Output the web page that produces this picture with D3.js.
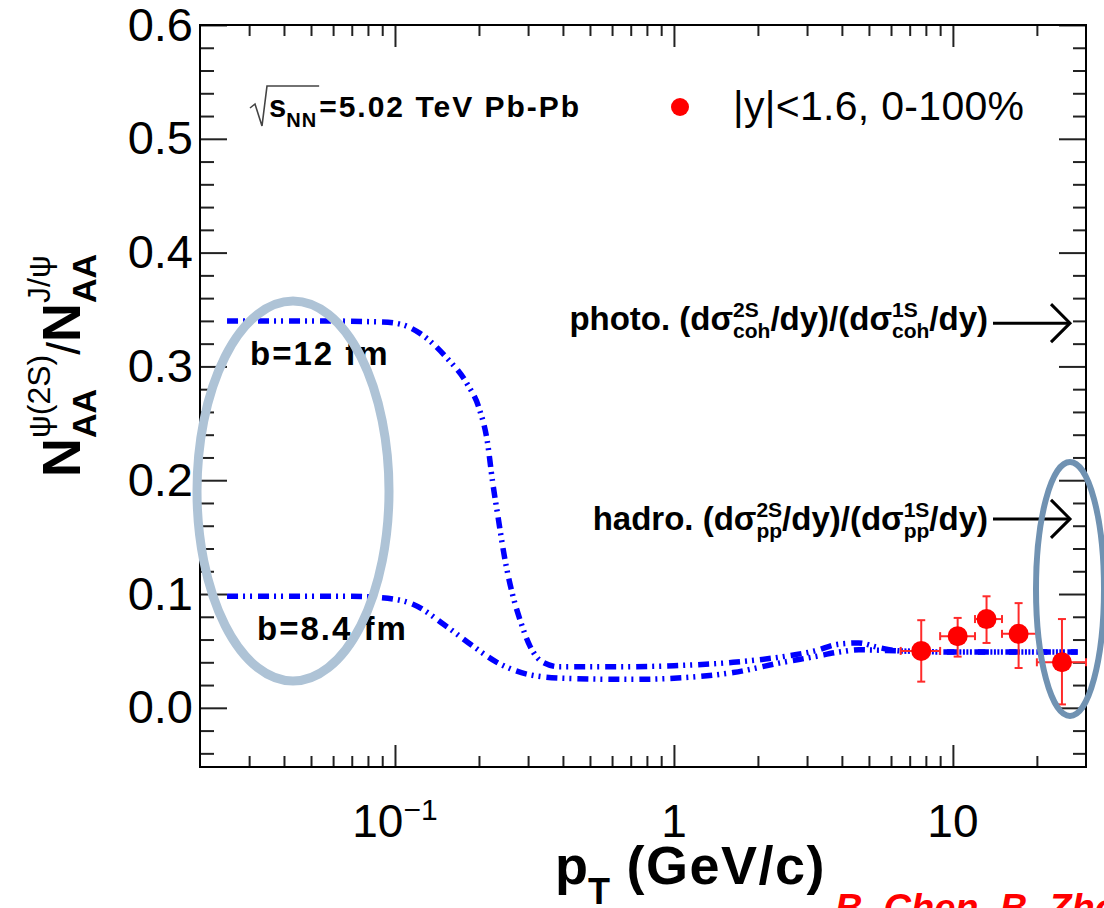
<!DOCTYPE html>
<html>
<head>
<meta charset="utf-8">
<script src="https://cdnjs.cloudflare.com/ajax/libs/d3/7.8.5/d3.min.js"></script>
<style>
  body { margin: 0; background: #fff; }
  svg { display: block; font-family: "Liberation Sans", Arial, Helvetica, sans-serif; }
</style>
</head>
<body>
<svg id="chart" width="1104" height="908"></svg>
<script>
// model curves, b=12 fm and b=8.4 fm (pT in GeV/c)
var b12Pt  = [0.025, 0.05, 0.09, 0.105, 0.123, 0.154, 0.181, 0.201, 0.214, 0.224, 0.234, 0.248, 0.263, 0.281, 0.305, 0.339, 0.39, 0.6, 1.0, 1.63, 2.46, 3.2, 3.9, 4.6, 5.4, 6.5, 10, 28];
var b12Val = [0.340, 0.340, 0.339, 0.337, 0.329, 0.307, 0.285, 0.262, 0.235, 0.198, 0.168, 0.130, 0.101, 0.077, 0.054, 0.040, 0.036, 0.036, 0.037, 0.040, 0.045, 0.050, 0.056, 0.057, 0.053, 0.050, 0.049, 0.049];
var b84Pt  = [0.025, 0.07, 0.088, 0.116, 0.154, 0.191, 0.232, 0.305, 0.40, 0.7, 1.0, 1.63, 2.46, 3.2, 3.9, 4.6, 6.5, 10, 28];
var b84Val = [0.098, 0.098, 0.097, 0.091, 0.071, 0.054, 0.040, 0.029, 0.026, 0.025, 0.026, 0.031, 0.040, 0.045, 0.049, 0.051, 0.050, 0.049, 0.049];

// measured points |y|<1.6, 0-100%
var ptCenter = [7.7, 10.4, 13.2, 17.2, 24.6];
var ptLow    = [6.5, 9, 12, 15, 20];
var ptHigh   = [9, 12, 15, 20, 30];
var ratio    = [0.050, 0.063, 0.078, 0.065, 0.040];
var errLow   = [0.027, 0.018, 0.021, 0.030, 0.037];
var errHigh  = [0.027, 0.016, 0.020, 0.027, 0.038];

// reference ratios (arrows)
var photoRatio = 0.338;
var hadroRatio = 0.166;

// ticks
var xMajor = [0.1, 1, 10];
var xMinor = [0.03, 0.04, 0.05, 0.06, 0.07, 0.08, 0.09, 0.2, 0.3, 0.4, 0.5, 0.6, 0.7, 0.8, 0.9, 2, 3, 4, 5, 6, 7, 8, 9, 20];
var xTickBase = ["10", "1", "10"];
var xTickExp  = ["\u22121", "", ""];
var yMajor = [0, 0.1, 0.2, 0.3, 0.4, 0.5, 0.6];
var yMinor = [-0.04, -0.02, 0.02, 0.04, 0.06, 0.08, 0.12, 0.14, 0.16, 0.18, 0.22, 0.24, 0.26, 0.28, 0.32, 0.34, 0.36, 0.38, 0.42, 0.44, 0.46, 0.48, 0.52, 0.54, 0.56, 0.58];

var svg = d3.select("#chart"),
    margin = {top: 25, right: 18, bottom: 141, left: 200},
    width = +svg.attr("width") - margin.left - margin.right,
    height = +svg.attr("height") - margin.top - margin.bottom,
    g = svg.append("g").attr("transform", "translate(" + margin.left + "," + margin.top + ")");

var x = d3.scaleLog().domain([0.02, 30]).range([0, width]),
    y = d3.scaleLinear().domain([-0.052, 0.6]).range([height, 0]);

// text with stacked sub/superscripts, returns total width
function rich(sel, parts) {
  var start = 0, end = 0;
  parts.forEach(function(p) {
    var px = p.stack ? start : end;
    var t = sel.append("text")
        .attr("x", px)
        .attr("y", p.dy || 0)
        .style("font-size", p.fs + "px")
        .style("font-weight", p.fw || "bold")
        .style("letter-spacing", (p.ls || 0) + "px")
        .text(p.t);
    var w = t.node().getComputedTextLength();
    if (!p.stack) start = px;
    end = Math.max(end, px + w);
  });
  return end;
}

function tickAxis(axis, tr) {
  var a = g.append("g").attr("transform", tr).call(axis);
  a.select(".domain").remove();
  a.selectAll(".tick line").attr("stroke", "#222").attr("stroke-width", 2);
  return a;
}

// ticks on all four sides, pointing inward
tickAxis(d3.axisBottom(x).tickValues(xMajor).tickSizeInner(-22).tickSizeOuter(0).tickFormat(""), "translate(0," + height + ")");
tickAxis(d3.axisBottom(x).tickValues(xMinor).tickSizeInner(-11).tickSizeOuter(0).tickFormat(""), "translate(0," + height + ")");
tickAxis(d3.axisTop(x).tickValues(xMajor).tickSizeInner(-22).tickSizeOuter(0).tickFormat(""), "translate(0,0)");
tickAxis(d3.axisTop(x).tickValues(xMinor).tickSizeInner(-11).tickSizeOuter(0).tickFormat(""), "translate(0,0)");
tickAxis(d3.axisRight(y).tickValues(yMajor).tickSizeInner(-27).tickSizeOuter(0).tickFormat(""), "translate(" + width + ",0)");
tickAxis(d3.axisRight(y).tickValues(yMinor).tickSizeInner(-13).tickSizeOuter(0).tickFormat(""), "translate(" + width + ",0)");
tickAxis(d3.axisLeft(y).tickValues(yMinor).tickSizeInner(-14).tickSizeOuter(0).tickFormat(""), "translate(0,0)");
var yAx = tickAxis(d3.axisLeft(y).tickValues(yMajor).tickSizeInner(-27).tickSizeOuter(0).tickPadding(7).tickFormat(d3.format(".1f")), "translate(0,0)");
yAx.attr("font-family", null).attr("font-size", null);
yAx.selectAll(".tick text").style("font-size", "47px").attr("fill", "#000");

// x tick labels (10^-1, 1, 10)
g.append("g").selectAll("text")
  .data(xMajor)
  .enter().append("text")
    .attr("x", function(d) { return x(d); })
    .attr("y", height + 70)
    .attr("text-anchor", "middle")
    .style("font-size", "46px")
    .each(function(d, i) {
      var t = d3.select(this);
      t.append("tspan").text(xTickBase[i]);
      if (xTickExp[i]) t.append("tspan").attr("dy", -17).style("font-size", "30px").text(xTickExp[i]);
    });

// frame
g.append("rect")
    .attr("width", width)
    .attr("height", height)
    .attr("fill", "none")
    .attr("stroke", "#000")
    .attr("stroke-width", 2);

// model curves
var line = d3.line()
    .curve(d3.curveMonotoneX)
    .x(function(d) { return x(d[0]); })
    .y(function(d) { return y(d[1]); });

[d3.zip(b12Pt, b12Val), d3.zip(b84Pt, b84Val)].forEach(function(c) {
  g.append("path")
      .attr("d", line(c))
      .attr("fill", "none")
      .attr("stroke", "#0000ff")
      .attr("stroke-width", 5.5)
      .attr("stroke-dasharray", "11,5,2,5,2,6");
});

// data points with error bars
var pts = g.selectAll(".pt")
  .data(ptCenter.map(function(p, i) {
    return {pt: p, lo: ptLow[i], hi: ptHigh[i], v: ratio[i], el: errLow[i], eh: errHigh[i]};
  }))
  .enter().append("g")
    .attr("class", "pt")
    .attr("stroke", "#ff2a2a")
    .attr("stroke-width", 2);

pts.append("line")
    .attr("x1", function(d) { return x(d.lo); })
    .attr("x2", function(d) { return x(d.hi); })
    .attr("y1", function(d) { return y(d.v); })
    .attr("y2", function(d) { return y(d.v); });
pts.append("line")
    .attr("x1", function(d) { return x(d.pt); })
    .attr("x2", function(d) { return x(d.pt); })
    .attr("y1", function(d) { return y(d.v - d.el); })
    .attr("y2", function(d) { return y(d.v + d.eh); });
pts.each(function(d) {
  var s = d3.select(this), cap = 4;
  [d.v - d.el, d.v + d.eh].forEach(function(v) {
    s.append("line").attr("x1", x(d.pt) - cap).attr("x2", x(d.pt) + cap).attr("y1", y(v)).attr("y2", y(v));
  });
  [d.lo, d.hi].forEach(function(p) {
    s.append("line").attr("x1", x(p)).attr("x2", x(p)).attr("y1", y(d.v) - cap).attr("y2", y(d.v) + cap);
  });
});
pts.append("circle")
    .attr("cx", function(d) { return x(d.pt); })
    .attr("cy", function(d) { return y(d.v); })
    .attr("r", 10)
    .attr("fill", "#ff0000")
    .attr("stroke", "none");

// arrows + labels
[photoRatio, hadroRatio].forEach(function(v) {
  var ay = y(v);
  g.append("line").attr("x1", 793).attr("x2", 869).attr("y1", ay).attr("y2", ay)
      .attr("stroke", "#000").attr("stroke-width", 3);
  g.append("polyline")
      .attr("points", [[851, ay - 19], [870, ay], [851, ay + 19]].join(" "))
      .attr("fill", "none").attr("stroke", "#000").attr("stroke-width", 3);
});

var photo = g.append("g");
var pw = rich(photo, [
  {t: "photo. (d\u03c3", fs: 33},
  {t: "2S", fs: 21, dy: -13},
  {t: "coh", fs: 21, dy: 8, stack: true},
  {t: "/dy)/(d\u03c3", fs: 33},
  {t: "1S", fs: 21, dy: -13},
  {t: "coh", fs: 21, dy: 8, stack: true},
  {t: "/dy)", fs: 33}
]);
photo.attr("transform", "translate(" + (788 - pw) + ",305)");

var hadro = g.append("g");
var hw = rich(hadro, [
  {t: "hadro. (d\u03c3", fs: 33},
  {t: "2S", fs: 21, dy: -13},
  {t: "pp", fs: 21, dy: 8, stack: true},
  {t: "/dy)/(d\u03c3", fs: 33},
  {t: "1S", fs: 21, dy: -13},
  {t: "pp", fs: 21, dy: 8, stack: true},
  {t: "/dy)", fs: 33}
]);
hadro.attr("transform", "translate(" + (788 - hw) + ",505)");

// curve labels
svg.append("text").attr("x", 250).attr("y", 365).style("font-size", "33px").style("font-weight", "bold")
    .style("letter-spacing", "2px").text("b=12 fm");
svg.append("text").attr("x", 257).attr("y", 640).style("font-size", "33px").style("font-weight", "bold")
    .style("letter-spacing", "2px").text("b=8.4 fm");

// sqrt(s_NN) label
var sq = svg.append("g").attr("transform", "translate(269,117)");
var sw = rich(sq, [
  {t: "s", fs: 31},
  {t: "NN", fs: 20, dy: 10, ls: 1}
]);
svg.append("path")
    .attr("d", "M250,108 L255,104 L262,126 L267,86 L" + (271 + sw) + ",86")
    .attr("fill", "none").attr("stroke", "#444").attr("stroke-width", 1.6);
svg.append("text").attr("x", 271 + sw).attr("y", 117)
    .style("font-size", "30px").style("font-weight", "bold").style("letter-spacing", "2px")
    .text("=5.02 TeV Pb-Pb");

// legend
svg.append("circle").attr("cx", 680).attr("cy", 107).attr("r", 9).attr("fill", "#ff0000");
svg.append("text").attr("x", 733).attr("y", 120).style("font-size", "41px").style("letter-spacing", "0.3px")
    .text("|y|<1.6, 0-100%");

// axis titles
var yt = svg.append("g").attr("transform", "translate(80,477) rotate(-90)");
rich(yt, [
  {t: "N", fs: 54},
  {t: "\u03c8(2S)", fs: 32, fw: "normal", dy: -30},
  {t: "AA", fs: 34, dy: 16, stack: true},
  {t: "/", fs: 46, fw: "normal"},
  {t: "N", fs: 54},
  {t: "J/\u03c8", fs: 32, fw: "normal", dy: -30},
  {t: "AA", fs: 34, dy: 16, stack: true}
]);

var xt = svg.append("g").attr("transform", "translate(555,884)");
rich(xt, [
  {t: "p", fs: 54},
  {t: "T", fs: 36, dy: 20},
  {t: "\u00a0(GeV/c)", fs: 54, ls: 1.5}
]);

// annotation ellipses
svg.append("ellipse").attr("cx", 293).attr("cy", 491).attr("rx", 96).attr("ry", 190)
    .attr("fill", "none").attr("stroke", "#aec3d6").attr("stroke-width", 9);
svg.append("ellipse").attr("cx", 1070).attr("cy", 589).attr("rx", 34).attr("ry", 127)
    .attr("fill", "none").attr("stroke", "#7092b2").attr("stroke-width", 6);

// citation, cut at the bottom edge
svg.append("text").attr("x", 835).attr("y", 921)
    .style("font-size", "38px").style("font-weight", "bold").style("font-style", "italic")
    .attr("fill", "#ff0000").text("B. Chen, B. Zhou");
</script>
</body>
</html>
